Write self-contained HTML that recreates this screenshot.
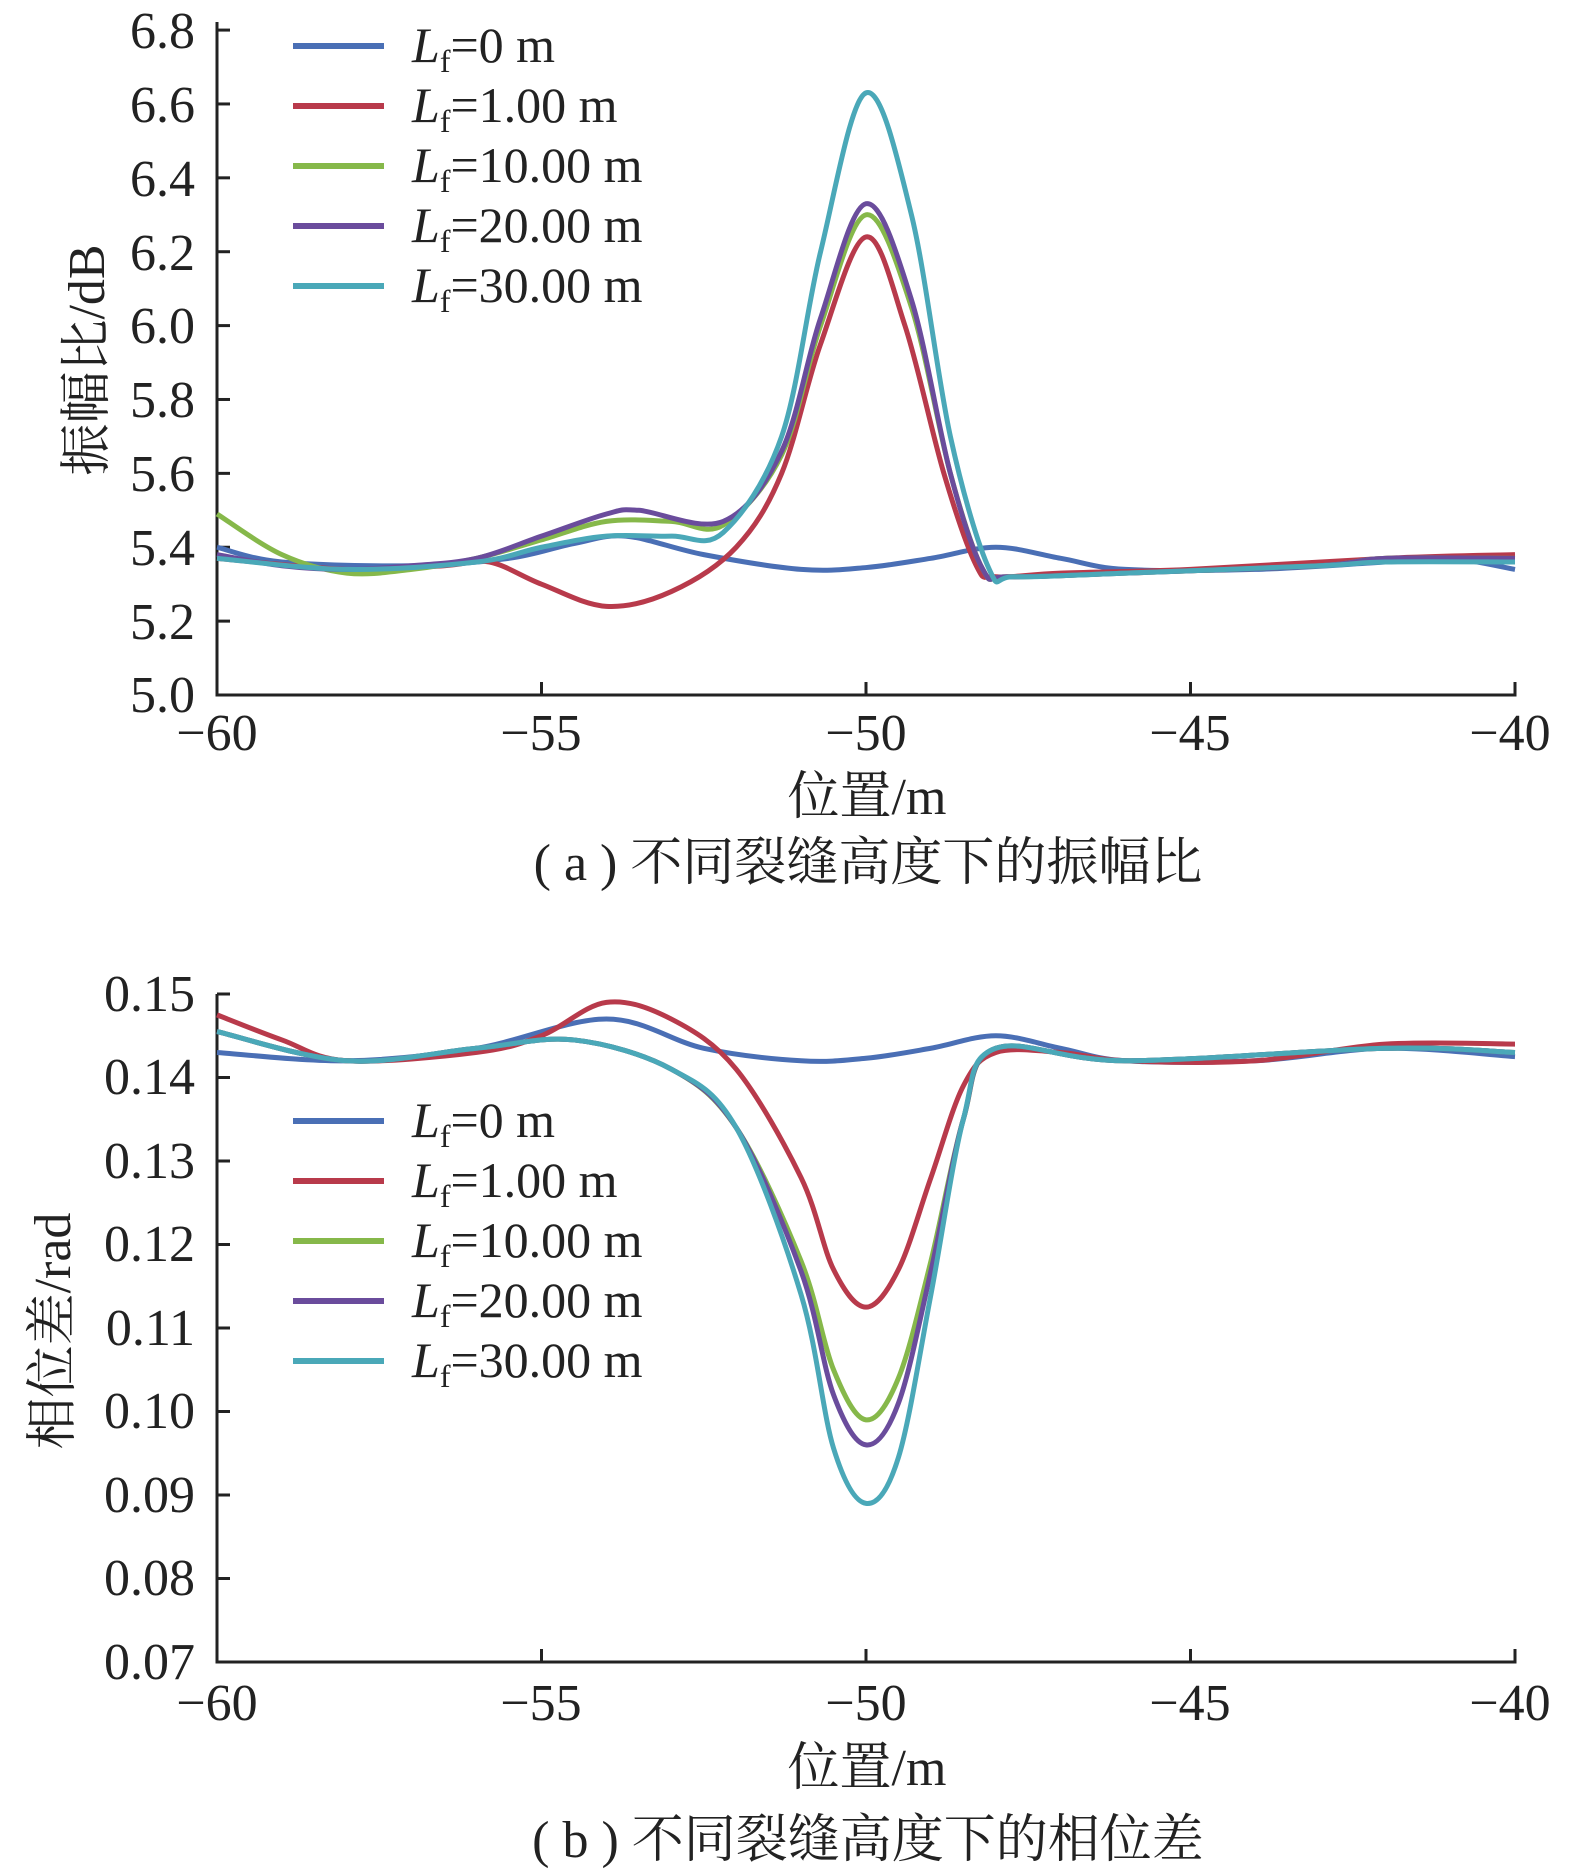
<!DOCTYPE html>
<html><head><meta charset="utf-8"><style>
html,body{margin:0;padding:0;background:#fff;}
svg text{font-family:"Liberation Serif","Noto Serif CJK SC",serif;fill:#222;}
</style></head><body>
<svg id="s" width="1575" height="1870" xmlns="http://www.w3.org/2000/svg">
<g font-size="52" text-anchor="end">
<text x="195" y="48">6.8</text><text x="195" y="122">6.6</text><text x="195" y="196">6.4</text>
<text x="195" y="270">6.2</text><text x="195" y="343">6.0</text><text x="195" y="417">5.8</text>
<text x="195" y="491">5.6</text><text x="195" y="565">5.4</text><text x="195" y="639">5.2</text>
<text x="195" y="712">5.0</text>
<text x="195" y="1011">0.15</text><text x="195" y="1094">0.14</text><text x="195" y="1178">0.13</text>
<text x="195" y="1261">0.12</text><text x="195" y="1345">0.11</text><text x="195" y="1428">0.10</text>
<text x="195" y="1512">0.09</text><text x="195" y="1595">0.08</text><text x="195" y="1679">0.07</text>
</g>
<g font-size="52" text-anchor="middle">
<text x="217" y="750">−60</text><text x="541" y="750">−55</text><text x="866" y="750">−50</text><text x="1190" y="750">−45</text><text x="1510" y="750">−40</text>
<text x="217" y="1720">−60</text><text x="541" y="1720">−55</text><text x="866" y="1720">−50</text><text x="1190" y="1720">−45</text><text x="1510" y="1720">−40</text>
<text x="867" y="814">位置/m</text>
<text x="868" y="880">( a ) 不同裂缝高度下的振幅比</text>
<text x="867" y="1785">位置/m</text>
<text x="868" y="1857">( b ) 不同裂缝高度下的相位差</text>
</g>
<text font-size="52" text-anchor="middle" transform="translate(104,360) rotate(-90)">振幅比/dB</text>
<text font-size="52" text-anchor="middle" transform="translate(70,1331) rotate(-90)">相位差/rad</text>
<g id="axes" stroke="#222" stroke-width="3" fill="none"></g>
<g id="curves" fill="none" stroke-width="5" stroke-linejoin="round"></g>
<g id="leg"></g>
</svg>
<script>
(function(){
var NS="http://www.w3.org/2000/svg";
function el(p,t,a){var e=document.createElementNS(NS,t);for(var k in a)e.setAttribute(k,a[k]);document.getElementById(p).appendChild(e);return e;}
var X=function(x){return 217+(x+60)*64.9;};
var Y1=function(v){return 695-(v-5)*369.4;};
var Y2=function(v){return 1662-(v-0.07)*8350;};
el("axes","path",{d:"M217,22 V695 H1515 V682"});
el("axes","path",{d:"M217,994 V1662 H1515 V1649"});
for(var i=0;i<10;i++){var y=Y1(5+0.2*i);el("axes","path",{d:"M217,"+y+" h13"});}
for(var i=0;i<9;i++){var y=Y2(0.07+0.01*i);el("axes","path",{d:"M217,"+y+" h13"});}
[-55,-50,-45].forEach(function(x){el("axes","path",{d:"M"+X(x)+",695 v-13"});el("axes","path",{d:"M"+X(x)+",1662 v-13"});});
function cr(pts,Y){var P=pts.map(function(p){return [X(p[0]),Y(p[1])];});var d="M"+P[0][0]+","+P[0][1];
for(var i=0;i<P.length-1;i++){var p0=P[i>0?i-1:0],p1=P[i],p2=P[i+1],p3=P[i+2<P.length?i+2:i+1];
d+=" C"+(p1[0]+(p2[0]-p0[0])/6)+","+(p1[1]+(p2[1]-p0[1])/6)+" "+(p2[0]-(p3[0]-p1[0])/6)+","+(p2[1]-(p3[1]-p1[1])/6)+" "+p2[0]+","+p2[1];}return d;}
var C=["#4a6fb5","#b83a4b","#86b84a","#6a4c9c","#4aa8b8"];
var topD=[
[[-60,5.40],[-59,5.36],[-57,5.35],[-55.5,5.37],[-54.5,5.41],[-53.7,5.43],[-52.5,5.38],[-51,5.34],[-50,5.345],[-49,5.37],[-48,5.40],[-47,5.37],[-46,5.34],[-44,5.34],[-42,5.36],[-41,5.37],[-40,5.34]],
[[-60,5.37],[-58,5.34],[-56.5,5.35],[-55.8,5.36],[-55,5.30],[-54,5.24],[-53,5.28],[-52,5.40],[-51.3,5.60],[-50.7,5.95],[-50,6.24],[-49.4,6.0],[-48.8,5.6],[-48.3,5.35],[-48,5.32],[-47,5.33],[-45,5.34],[-42,5.37],[-40,5.38]],
[[-60,5.49],[-59,5.38],[-58,5.33],[-57,5.34],[-56,5.37],[-55,5.42],[-54,5.47],[-53,5.47],[-52.2,5.46],[-51.3,5.65],[-50.7,6.0],[-50,6.30],[-49.3,6.05],[-48.7,5.6],[-48.2,5.34],[-47.8,5.32],[-46,5.33],[-43,5.35],[-42,5.37],[-40,5.37]],
[[-60,5.38],[-59,5.35],[-58,5.34],[-57,5.35],[-56,5.37],[-55,5.43],[-54,5.49],[-53.5,5.50],[-52.2,5.47],[-51.3,5.66],[-50.7,6.02],[-50,6.33],[-49.3,6.07],[-48.7,5.6],[-48.2,5.34],[-47.8,5.32],[-46,5.33],[-43,5.35],[-42,5.37],[-40,5.37]],
[[-60,5.37],[-58,5.34],[-56,5.36],[-55,5.40],[-54,5.43],[-53,5.43],[-52.2,5.44],[-51.3,5.70],[-50.7,6.2],[-50,6.63],[-49.3,6.3],[-48.7,5.7],[-48.1,5.34],[-47.7,5.32],[-46,5.33],[-43,5.35],[-42,5.36],[-40,5.36]]];
function dip(mn,w){return [[-60,0.1455],[-58,0.142],[-56,0.1435],[-54.5,0.1445],[-53,0.141],[-52,0.134],[-51,0.118+(mn-0.099)*0.4],[-50.5,mn+0.006*w],[-50,mn],[-49.5,mn+0.005*w],[-49,0.118+(mn-0.099)*0.4],[-48.5,0.135],[-48,0.1435],[-46,0.142],[-42,0.1435],[-40,0.143]];}
var botD=[
[[-60,0.143],[-58,0.142],[-56,0.1435],[-54,0.147],[-52.5,0.1435],[-51,0.142],[-50,0.1423],[-49,0.1435],[-48,0.145],[-47,0.1435],[-46,0.142],[-44,0.142],[-42,0.1435],[-40,0.1425]],
[[-60,0.1475],[-59,0.1445],[-58,0.142],[-56,0.143],[-55,0.145],[-54,0.149],[-53,0.147],[-52,0.141],[-51,0.128],[-50.5,0.117],[-50,0.1125],[-49.5,0.117],[-49,0.128],[-48.5,0.139],[-48,0.143],[-47,0.143],[-46,0.142],[-44,0.142],[-42,0.144],[-40,0.144]],
dip(0.099,1),dip(0.096,1),dip(0.089,1.1)];
[0,1,2,3,4].forEach(function(i){el("curves","path",{d:cr(topD[i],Y1),stroke:C[i]});});
[0,1,2,3,4].forEach(function(i){el("curves","path",{d:cr(botD[i],Y2),stroke:C[i]});});
var labs=["0 m","1.00 m","10.00 m","20.00 m","30.00 m"];
function legend(y0){for(var i=0;i<5;i++){var y=y0+i*60;
el("leg","path",{d:"M293,"+y+" H384",stroke:C[i],"stroke-width":6});
var t=el("leg","text",{x:412,y:y+16,"font-size":50});
var a=document.createElementNS(NS,"tspan");a.setAttribute("font-style","italic");a.textContent="L";t.appendChild(a);
var b=document.createElementNS(NS,"tspan");b.setAttribute("font-size","32");b.setAttribute("dy","10");b.textContent="f";t.appendChild(b);
var c=document.createElementNS(NS,"tspan");c.setAttribute("dy","-10");c.textContent="="+labs[i];t.appendChild(c);}}
legend(46);legend(1121);
})();
</script>
</body></html>
